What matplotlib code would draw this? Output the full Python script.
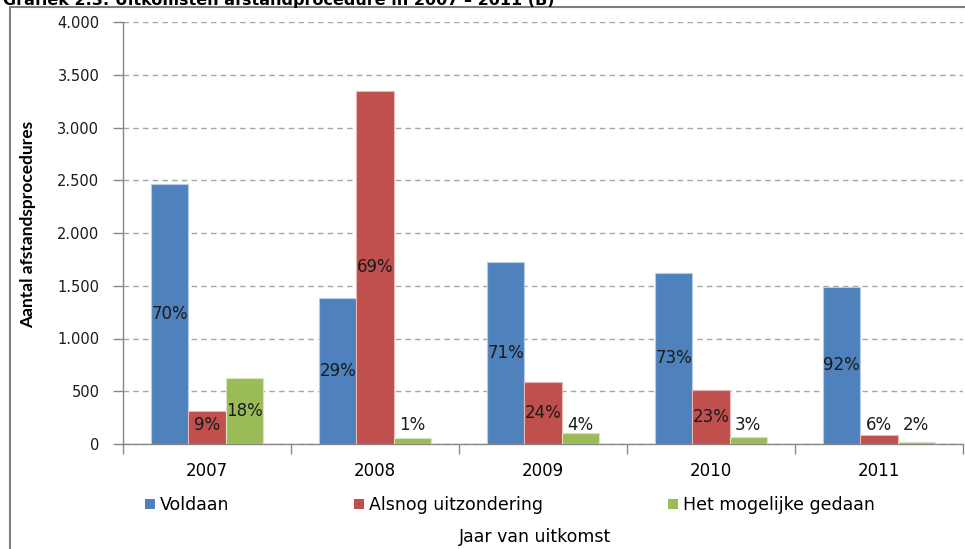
import numpy as np
import matplotlib
matplotlib.use("Agg")
import matplotlib.pyplot as plt
from matplotlib.patches import Rectangle, Patch
from matplotlib.ticker import FuncFormatter, FixedLocator

years = ["2007", "2008", "2009", "2010", "2011"]
series = ["Voldaan", "Alsnog uitzondering", "Het mogelijke gedaan"]
voldaan = [2462, 1381, 1728, 1624, 1491]
alsnog = [313, 3346, 591, 515, 88]
mogelijk = [629, 60, 101, 69, 19]
pct_voldaan = ["70%", "29%", "71%", "73%", "92%"]
pct_alsnog = ["9%", "69%", "24%", "23%", "6%"]
pct_mogelijk = ["18%", "1%", "4%", "3%", "2%"]

colors = ["#4F81BD", "#C0504D", "#9BBB59"]
edges = ["#B9CDE5", "#E6B9B8", "#D7E4BD"]

fig = plt.figure(figsize=(9.65, 5.49), dpi=100)
ax = fig.add_axes([123 / 965, 1 - 444 / 549, 840 / 965, 422 / 549])

x = np.arange(len(years))
w = 0.222
data = [voldaan, alsnog, mogelijk]
pcts = [pct_voldaan, pct_alsnog, pct_mogelijk]
for i, (vals, labs) in enumerate(zip(data, pcts)):
    pos = x + (i - 1) * w
    ax.bar(pos, vals, width=w, color=colors[i], edgecolor=edges[i],
           linewidth=0.8, zorder=3)
    for px, v, lab in zip(pos, vals, labs):
        ax.text(px, max(v / 2, 180), lab, ha="center", va="center",
                fontsize=12, color="#1a1a1a", family="DejaVu Sans", zorder=4)

ax.set_xlim(-0.5, len(years) - 0.5)
ax.set_ylim(0, 4000)
ax.set_yticks(np.arange(0, 4001, 500))
ax.yaxis.set_major_formatter(FuncFormatter(lambda v, p: f"{int(v):,}".replace(",", ".")))
ax.grid(axis="y", color="#A6A6A6", linestyle=(0, (4, 3)), linewidth=1, zorder=0)

ax.set_xticks(x)
ax.set_xticklabels(years)
ax.xaxis.set_minor_locator(FixedLocator(np.arange(-0.5, len(years), 1)))
ax.tick_params(axis="x", which="major", length=0, pad=13, labelsize=12)
ax.tick_params(axis="x", which="minor", length=7, color="#868686", width=1)
ax.tick_params(axis="y", length=7, color="#868686", width=1, pad=10,
               labelsize=10.5, labelcolor="#1a1a1a")

for s in ["top", "right"]:
    ax.spines[s].set_visible(False)
for s in ["left", "bottom"]:
    ax.spines[s].set_color("#868686")
    ax.spines[s].set_linewidth(1)

ax.set_ylabel("Aantal afstandsprocedures", fontsize=12.5, fontweight="bold",
              family="Lato")
ax.yaxis.set_label_coords(-0.104, 0.52)

handles = [Patch(facecolor=c) for c in colors]
fig.legend(handles, series, loc="center left",
           bbox_to_anchor=(145 / 965, 1 - 505 / 549), ncol=3, frameon=False,
           fontsize=12.5, handlelength=0.55, handleheight=0.55,
           handletextpad=0.3, columnspacing=7.2, borderpad=0, borderaxespad=0)

fig.text(535 / 965, 1 - 537 / 549, "Jaar van uitkomst", ha="center",
         va="center", fontsize=12.5)

fig.text(0.003, 1 - 5 / 549, "Grafiek 2.3: Uitkomsten afstandprocedure in 2007 \u2013 2011 (B)",
         ha="left", va="baseline", fontsize=11.5, fontweight="bold")

fig.patches.append(Rectangle((10 / 965, -0.1), 1.2, 1.1 - 7 / 549,
                             transform=fig.transFigure, fill=False,
                             edgecolor="#7F7F7F", linewidth=1.5))

fig.savefig("out.png", dpi=100)
